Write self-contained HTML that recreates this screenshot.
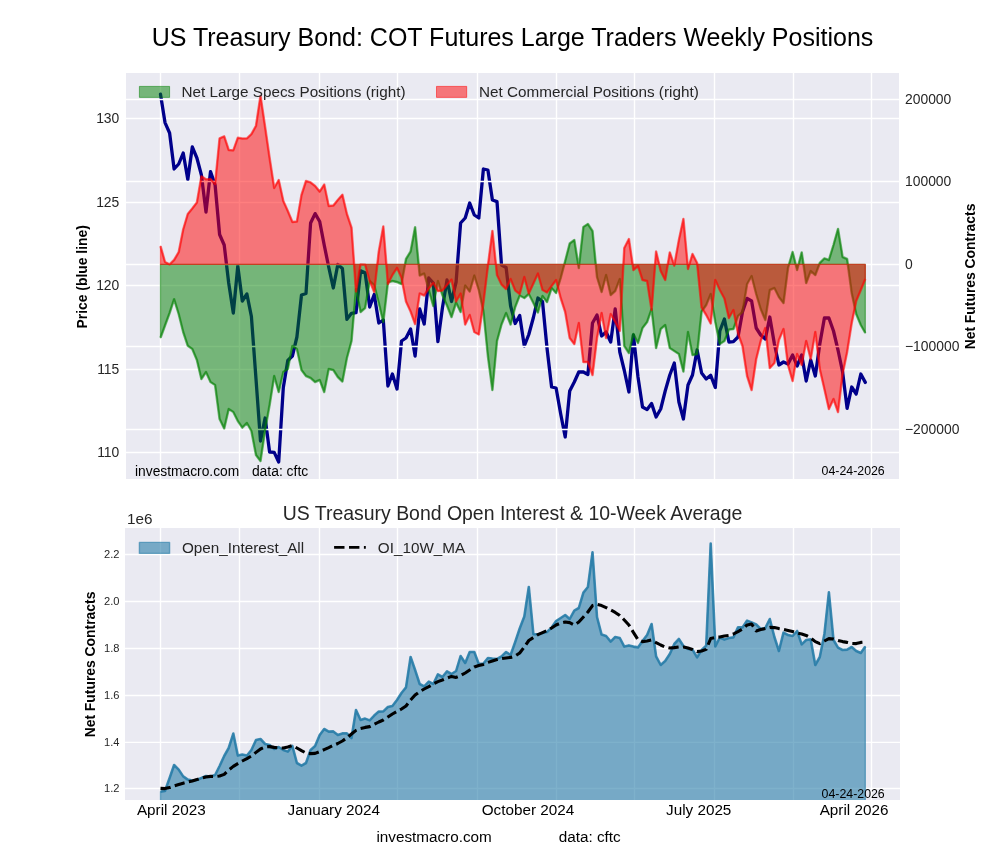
<!DOCTYPE html>
<html><head><meta charset="utf-8"><title>US Treasury Bond COT</title>
<style>html,body{margin:0;padding:0;background:#fff;}#wrap{width:1000px;height:860px;will-change:transform;}svg{display:block}text{font-family:"Liberation Sans",sans-serif;}</style></head><body>
<div id="wrap"><svg width="1000" height="860" viewBox="0 0 1000 860">
<rect width="1000" height="860" fill="#ffffff"/>
<defs><clipPath id="ct"><rect x="126" y="73" width="773" height="406"/></clipPath><clipPath id="cb"><rect x="125" y="528" width="775" height="272"/></clipPath></defs>
<rect x="126.0" y="73.0" width="773.0" height="406.0" fill="#eaeaf2"/>
<g stroke="#ffffff" stroke-width="1.39" clip-path="url(#ct)">
<line x1="160.5" y1="73.0" x2="160.5" y2="479.0"/>
<line x1="239.5" y1="73.0" x2="239.5" y2="479.0"/>
<line x1="319.5" y1="73.0" x2="319.5" y2="479.0"/>
<line x1="397.5" y1="73.0" x2="397.5" y2="479.0"/>
<line x1="477.5" y1="73.0" x2="477.5" y2="479.0"/>
<line x1="556.5" y1="73.0" x2="556.5" y2="479.0"/>
<line x1="634.5" y1="73.0" x2="634.5" y2="479.0"/>
<line x1="714.5" y1="73.0" x2="714.5" y2="479.0"/>
<line x1="793.5" y1="73.0" x2="793.5" y2="479.0"/>
<line x1="871.5" y1="73.0" x2="871.5" y2="479.0"/>
<line x1="126.0" y1="118.5" x2="899.0" y2="118.5"/>
<line x1="126.0" y1="202.5" x2="899.0" y2="202.5"/>
<line x1="126.0" y1="285.5" x2="899.0" y2="285.5"/>
<line x1="126.0" y1="369.5" x2="899.0" y2="369.5"/>
<line x1="126.0" y1="452.5" x2="899.0" y2="452.5"/>
</g>
<g clip-path="url(#ct)">
<polyline points="160.5,94.2 165.0,122.6 169.6,133.0 174.1,169.0 178.7,164.0 183.2,153.0 187.8,179.4 192.3,147.0 196.9,158.0 201.4,175.0 206.0,212.0 210.5,171.6 215.1,185.0 219.6,234.5 224.2,245.0 228.7,283.0 233.3,313.0 237.8,266.0 242.3,301.0 246.9,294.0 251.4,316.5 256.0,379.0 260.5,441.0 265.1,418.0 269.6,452.0 274.2,452.4 278.7,462.0 283.3,387.5 287.8,360.5 292.4,356.0 296.9,337.0 301.5,295.0 306.0,293.5 310.6,223.0 315.1,213.6 319.7,221.5 324.2,245.0 328.7,267.0 333.3,288.0 337.8,264.5 342.4,268.5 346.9,319.3 351.5,313.3 356.0,312.7 360.6,270.8 365.1,272.7 369.7,307.0 374.2,294.5 378.8,323.0 383.3,320.0 387.9,386.0 392.4,374.0 397.0,389.0 401.5,341.0 406.0,338.0 410.6,329.0 415.1,356.0 419.7,309.0 424.2,324.0 428.8,278.0 433.3,283.0 437.9,341.6 442.4,308.0 447.0,280.0 451.5,301.5 456.1,282.0 460.6,223.0 465.2,218.0 469.7,203.0 474.3,215.0 478.8,218.0 483.4,169.0 487.9,170.0 492.4,200.0 497.0,201.6 501.5,265.0 506.1,267.5 510.6,306.0 515.2,323.5 519.7,315.5 524.3,346.0 528.8,334.5 533.4,317.5 537.9,298.0 542.5,301.5 547.0,348.0 551.6,387.0 556.1,388.0 560.7,414.0 565.2,437.0 569.7,391.0 574.3,382.0 578.8,372.0 583.4,372.0 587.9,374.5 592.5,323.0 597.0,315.0 601.6,336.0 606.1,332.0 610.7,342.0 615.2,309.0 619.8,352.0 624.3,370.5 628.9,392.0 633.4,335.0 638.0,377.0 642.5,407.0 647.1,409.6 651.6,403.6 656.1,417.0 660.7,409.0 665.2,391.0 669.8,375.0 674.3,363.0 678.9,402.0 683.4,419.0 688.0,385.0 692.5,375.0 697.1,350.0 701.6,373.0 706.2,379.0 710.7,375.3 715.3,387.5 719.8,331.0 724.4,319.0 728.9,342.0 733.4,341.6 738.0,337.0 742.5,312.0 747.1,298.4 751.6,301.0 756.2,328.0 760.7,335.0 765.3,339.0 769.8,317.0 774.4,344.0 778.9,365.0 783.5,362.0 788.0,364.0 792.6,355.0 797.1,366.0 801.7,355.0 806.2,381.0 810.7,360.0 815.3,376.0 819.8,344.0 824.4,318.0 828.9,318.0 833.5,331.0 838.0,350.0 842.6,372.0 847.1,408.4 851.7,387.0 856.2,394.0 860.8,374.0 865.3,382.4" fill="none" stroke="#00008b" stroke-width="3.3" stroke-linejoin="round" stroke-linecap="round"/>
<g stroke="#ffffff" stroke-width="1.39">
<line x1="126.0" y1="99.5" x2="899.0" y2="99.5"/>
<line x1="126.0" y1="181.5" x2="899.0" y2="181.5"/>
<line x1="126.0" y1="264.5" x2="899.0" y2="264.5"/>
<line x1="126.0" y1="346.5" x2="899.0" y2="346.5"/>
<line x1="126.0" y1="429.5" x2="899.0" y2="429.5"/>
</g>
<polygon points="160.5,264.4 160.5,337.8 165.0,325.5 169.6,313.0 174.1,299.2 178.7,314.0 183.2,332.0 187.8,345.8 192.3,349.0 196.9,360.0 201.4,379.0 206.0,372.0 210.5,382.0 215.1,385.0 219.6,419.0 224.2,428.4 228.7,409.0 233.3,412.0 237.8,421.0 242.3,427.6 246.9,423.0 251.4,431.0 256.0,455.0 260.5,461.0 265.1,430.0 269.6,405.0 274.2,376.0 278.7,392.0 283.3,372.0 287.8,369.0 292.4,346.0 296.9,349.0 301.5,370.0 306.0,376.0 310.6,378.0 315.1,382.0 319.7,380.0 324.2,392.0 328.7,369.0 333.3,370.0 337.8,377.0 342.4,381.5 346.9,358.0 351.5,341.0 356.0,289.0 360.6,312.0 365.1,308.0 369.7,281.0 374.2,285.0 378.8,303.0 383.3,322.0 387.9,282.5 392.4,281.0 397.0,282.0 401.5,284.0 406.0,259.0 410.6,251.5 415.1,227.3 419.7,275.5 424.2,273.5 428.8,290.0 433.3,306.0 437.9,281.0 442.4,295.0 447.0,305.5 451.5,317.0 456.1,302.5 460.6,312.0 465.2,285.5 469.7,291.5 474.3,275.5 478.8,290.0 483.4,311.0 487.9,356.0 492.4,390.0 497.0,341.0 501.5,324.5 506.1,313.0 510.6,324.5 515.2,307.0 519.7,295.5 524.3,298.0 528.8,294.0 533.4,303.0 537.9,312.5 542.5,296.0 547.0,302.0 551.6,288.0 556.1,293.0 560.7,278.0 565.2,261.0 569.7,243.6 574.3,240.0 578.8,268.0 583.4,227.0 587.9,224.0 592.5,231.0 597.0,277.0 601.6,292.0 606.1,275.0 610.7,295.0 615.2,291.0 619.8,279.0 624.3,346.0 628.9,353.0 633.4,334.0 638.0,343.0 642.5,328.0 647.1,322.0 651.6,309.0 656.1,348.0 660.7,329.0 665.2,325.0 669.8,348.0 674.3,351.0 678.9,354.0 683.4,371.5 688.0,332.0 692.5,355.0 697.1,354.0 701.6,311.5 706.2,305.0 710.7,294.0 715.3,322.0 719.8,344.0 724.4,341.0 728.9,329.6 733.4,329.0 738.0,316.0 742.5,312.0 747.1,284.0 751.6,276.0 756.2,294.0 760.7,309.0 765.3,320.0 769.8,290.0 774.4,288.0 778.9,297.0 783.5,303.0 788.0,268.0 792.6,252.0 797.1,270.0 801.7,252.4 806.2,283.0 810.7,271.0 815.3,275.0 819.8,263.0 824.4,258.4 828.9,260.0 833.5,245.0 838.0,229.0 842.6,257.0 847.1,259.0 851.7,293.0 856.2,314.0 860.8,325.0 865.3,333.0 865.3,264.4" fill="rgb(0,128,0)" fill-opacity="0.5" stroke="rgb(0,128,0)" stroke-opacity="0.5" stroke-width="1.3" stroke-linejoin="round"/>
<polyline points="160.5,337.8 165.0,325.5 169.6,313.0 174.1,299.2 178.7,314.0 183.2,332.0 187.8,345.8 192.3,349.0 196.9,360.0 201.4,379.0 206.0,372.0 210.5,382.0 215.1,385.0 219.6,419.0 224.2,428.4 228.7,409.0 233.3,412.0 237.8,421.0 242.3,427.6 246.9,423.0 251.4,431.0 256.0,455.0 260.5,461.0 265.1,430.0 269.6,405.0 274.2,376.0 278.7,392.0 283.3,372.0 287.8,369.0 292.4,346.0 296.9,349.0 301.5,370.0 306.0,376.0 310.6,378.0 315.1,382.0 319.7,380.0 324.2,392.0 328.7,369.0 333.3,370.0 337.8,377.0 342.4,381.5 346.9,358.0 351.5,341.0 356.0,289.0 360.6,312.0 365.1,308.0 369.7,281.0 374.2,285.0 378.8,303.0 383.3,322.0 387.9,282.5 392.4,281.0 397.0,282.0 401.5,284.0 406.0,259.0 410.6,251.5 415.1,227.3 419.7,275.5 424.2,273.5 428.8,290.0 433.3,306.0 437.9,281.0 442.4,295.0 447.0,305.5 451.5,317.0 456.1,302.5 460.6,312.0 465.2,285.5 469.7,291.5 474.3,275.5 478.8,290.0 483.4,311.0 487.9,356.0 492.4,390.0 497.0,341.0 501.5,324.5 506.1,313.0 510.6,324.5 515.2,307.0 519.7,295.5 524.3,298.0 528.8,294.0 533.4,303.0 537.9,312.5 542.5,296.0 547.0,302.0 551.6,288.0 556.1,293.0 560.7,278.0 565.2,261.0 569.7,243.6 574.3,240.0 578.8,268.0 583.4,227.0 587.9,224.0 592.5,231.0 597.0,277.0 601.6,292.0 606.1,275.0 610.7,295.0 615.2,291.0 619.8,279.0 624.3,346.0 628.9,353.0 633.4,334.0 638.0,343.0 642.5,328.0 647.1,322.0 651.6,309.0 656.1,348.0 660.7,329.0 665.2,325.0 669.8,348.0 674.3,351.0 678.9,354.0 683.4,371.5 688.0,332.0 692.5,355.0 697.1,354.0 701.6,311.5 706.2,305.0 710.7,294.0 715.3,322.0 719.8,344.0 724.4,341.0 728.9,329.6 733.4,329.0 738.0,316.0 742.5,312.0 747.1,284.0 751.6,276.0 756.2,294.0 760.7,309.0 765.3,320.0 769.8,290.0 774.4,288.0 778.9,297.0 783.5,303.0 788.0,268.0 792.6,252.0 797.1,270.0 801.7,252.4 806.2,283.0 810.7,271.0 815.3,275.0 819.8,263.0 824.4,258.4 828.9,260.0 833.5,245.0 838.0,229.0 842.6,257.0 847.1,259.0 851.7,293.0 856.2,314.0 860.8,325.0 865.3,333.0" fill="none" stroke="rgb(0,128,0)" stroke-opacity="0.5" stroke-width="2.5" stroke-linejoin="round"/>
<polygon points="160.5,264.4 160.5,246.2 165.0,262.0 169.6,264.4 174.1,260.0 178.7,252.2 183.2,229.5 187.8,214.0 192.3,208.5 196.9,202.5 201.4,176.4 206.0,179.4 210.5,179.0 215.1,184.0 219.6,138.4 224.2,136.4 228.7,150.0 233.3,150.4 237.8,137.8 242.3,138.6 246.9,138.4 251.4,134.2 256.0,125.8 260.5,96.0 265.1,127.0 269.6,158.0 274.2,188.0 278.7,180.0 283.3,201.0 287.8,211.0 292.4,222.0 296.9,221.6 301.5,195.0 306.0,181.0 310.6,182.4 315.1,186.0 319.7,191.6 324.2,184.6 328.7,206.0 333.3,205.6 337.8,200.0 342.4,194.8 346.9,214.0 351.5,227.7 356.0,291.5 360.6,264.4 365.1,264.7 369.7,281.0 374.2,292.0 378.8,251.5 383.3,226.5 387.9,284.0 392.4,275.0 397.0,267.8 401.5,277.8 406.0,301.5 410.6,311.5 415.1,324.0 419.7,293.5 424.2,295.5 428.8,288.5 433.3,283.0 437.9,291.0 442.4,290.5 447.0,285.0 451.5,279.5 456.1,301.5 460.6,293.5 465.2,324.5 469.7,315.0 474.3,332.0 478.8,334.5 483.4,303.0 487.9,266.0 492.4,231.0 497.0,275.0 501.5,284.5 506.1,289.0 510.6,279.0 515.2,290.5 519.7,294.0 524.3,277.0 528.8,293.5 533.4,283.5 537.9,273.5 542.5,290.0 547.0,292.4 551.6,286.0 556.1,280.0 560.7,298.0 565.2,312.0 569.7,338.0 574.3,344.0 578.8,323.0 583.4,362.0 587.9,362.0 592.5,375.0 597.0,338.0 601.6,313.0 606.1,338.0 610.7,314.0 615.2,322.0 619.8,331.0 624.3,248.0 628.9,239.0 633.4,270.0 638.0,266.0 642.5,280.0 647.1,281.0 651.6,310.0 656.1,251.6 660.7,271.0 665.2,280.0 669.8,252.4 674.3,265.6 678.9,240.0 683.4,219.0 688.0,269.0 692.5,254.0 697.1,263.0 701.6,307.5 706.2,315.0 710.7,323.5 715.3,280.0 719.8,290.0 724.4,298.5 728.9,318.0 733.4,310.0 738.0,333.5 742.5,346.0 747.1,376.0 751.6,390.0 756.2,359.0 760.7,341.0 765.3,328.0 769.8,368.0 774.4,363.0 778.9,340.0 783.5,329.0 788.0,365.0 792.6,381.0 797.1,354.0 801.7,365.0 806.2,341.0 810.7,359.0 815.3,332.0 819.8,369.0 824.4,389.0 828.9,409.0 833.5,399.0 838.0,412.0 842.6,374.0 847.1,352.0 851.7,323.0 856.2,301.0 860.8,290.0 865.3,279.0 865.3,264.4" fill="rgb(255,0,0)" fill-opacity="0.5" stroke="rgb(255,0,0)" stroke-opacity="0.5" stroke-width="1.3" stroke-linejoin="round"/>
<polyline points="160.5,246.2 165.0,262.0 169.6,264.4 174.1,260.0 178.7,252.2 183.2,229.5 187.8,214.0 192.3,208.5 196.9,202.5 201.4,176.4 206.0,179.4 210.5,179.0 215.1,184.0 219.6,138.4 224.2,136.4 228.7,150.0 233.3,150.4 237.8,137.8 242.3,138.6 246.9,138.4 251.4,134.2 256.0,125.8 260.5,96.0 265.1,127.0 269.6,158.0 274.2,188.0 278.7,180.0 283.3,201.0 287.8,211.0 292.4,222.0 296.9,221.6 301.5,195.0 306.0,181.0 310.6,182.4 315.1,186.0 319.7,191.6 324.2,184.6 328.7,206.0 333.3,205.6 337.8,200.0 342.4,194.8 346.9,214.0 351.5,227.7 356.0,291.5 360.6,264.4 365.1,264.7 369.7,281.0 374.2,292.0 378.8,251.5 383.3,226.5 387.9,284.0 392.4,275.0 397.0,267.8 401.5,277.8 406.0,301.5 410.6,311.5 415.1,324.0 419.7,293.5 424.2,295.5 428.8,288.5 433.3,283.0 437.9,291.0 442.4,290.5 447.0,285.0 451.5,279.5 456.1,301.5 460.6,293.5 465.2,324.5 469.7,315.0 474.3,332.0 478.8,334.5 483.4,303.0 487.9,266.0 492.4,231.0 497.0,275.0 501.5,284.5 506.1,289.0 510.6,279.0 515.2,290.5 519.7,294.0 524.3,277.0 528.8,293.5 533.4,283.5 537.9,273.5 542.5,290.0 547.0,292.4 551.6,286.0 556.1,280.0 560.7,298.0 565.2,312.0 569.7,338.0 574.3,344.0 578.8,323.0 583.4,362.0 587.9,362.0 592.5,375.0 597.0,338.0 601.6,313.0 606.1,338.0 610.7,314.0 615.2,322.0 619.8,331.0 624.3,248.0 628.9,239.0 633.4,270.0 638.0,266.0 642.5,280.0 647.1,281.0 651.6,310.0 656.1,251.6 660.7,271.0 665.2,280.0 669.8,252.4 674.3,265.6 678.9,240.0 683.4,219.0 688.0,269.0 692.5,254.0 697.1,263.0 701.6,307.5 706.2,315.0 710.7,323.5 715.3,280.0 719.8,290.0 724.4,298.5 728.9,318.0 733.4,310.0 738.0,333.5 742.5,346.0 747.1,376.0 751.6,390.0 756.2,359.0 760.7,341.0 765.3,328.0 769.8,368.0 774.4,363.0 778.9,340.0 783.5,329.0 788.0,365.0 792.6,381.0 797.1,354.0 801.7,365.0 806.2,341.0 810.7,359.0 815.3,332.0 819.8,369.0 824.4,389.0 828.9,409.0 833.5,399.0 838.0,412.0 842.6,374.0 847.1,352.0 851.7,323.0 856.2,301.0 860.8,290.0 865.3,279.0" fill="none" stroke="rgb(255,0,0)" stroke-opacity="0.5" stroke-width="2.5" stroke-linejoin="round"/>
</g>
<rect x="139.4" y="86.4" width="30.2" height="11" fill="rgb(0,128,0)" fill-opacity="0.5" stroke="rgb(0,128,0)" stroke-opacity="0.5" stroke-width="1" stroke-linejoin="round"/>
<text x="181.5" y="96.8" font-size="15.28" fill="#262626">Net Large Specs Positions (right)</text>
<rect x="436.5" y="86.4" width="30.2" height="11" fill="rgb(255,0,0)" fill-opacity="0.5" stroke="rgb(255,0,0)" stroke-opacity="0.5" stroke-width="1" stroke-linejoin="round"/>
<text x="479" y="96.8" font-size="15.28" fill="#262626">Net Commercial Positions (right)</text>
<text x="512.5" y="46" font-size="25" text-anchor="middle" fill="#000000">US Treasury Bond: COT Futures Large Traders Weekly Positions</text>
<text x="119.3" y="123.1" font-size="13.89" text-anchor="end" fill="#262626">130</text>
<text x="119.3" y="207.1" font-size="13.89" text-anchor="end" fill="#262626">125</text>
<text x="119.3" y="290.1" font-size="13.89" text-anchor="end" fill="#262626">120</text>
<text x="119.3" y="374.1" font-size="13.89" text-anchor="end" fill="#262626">115</text>
<text x="119.3" y="457.1" font-size="13.89" text-anchor="end" fill="#262626">110</text>
<text x="905" y="104.1" font-size="13.89" fill="#262626">200000</text>
<text x="905" y="186.1" font-size="13.89" fill="#262626">100000</text>
<text x="905" y="269.1" font-size="13.89" fill="#262626">0</text>
<text x="905" y="351.1" font-size="13.89" fill="#262626">−100000</text>
<text x="905" y="434.1" font-size="13.89" fill="#262626">−200000</text>
<text transform="translate(87,276.8) rotate(-90)" font-size="13.89" font-weight="bold" text-anchor="middle" fill="#000">Price (blue line)</text>
<text transform="translate(975.2,276.5) rotate(-90)" font-size="13.89" font-weight="bold" text-anchor="middle" fill="#000">Net Futures Contracts</text>
<text x="135.0" y="476" font-size="13.8" fill="#000">investmacro.com</text>
<text x="251.9" y="476" font-size="13.89" fill="#000">data: cftc</text>
<text x="821.6" y="475" font-size="12.35" fill="#000">04-24-2026</text>
<rect x="125.0" y="528.0" width="775.0" height="272.0" fill="#eaeaf2"/>
<g stroke="#ffffff" stroke-width="1.39" clip-path="url(#cb)">
<line x1="160.5" y1="528.0" x2="160.5" y2="800.0"/>
<line x1="239.5" y1="528.0" x2="239.5" y2="800.0"/>
<line x1="319.5" y1="528.0" x2="319.5" y2="800.0"/>
<line x1="397.5" y1="528.0" x2="397.5" y2="800.0"/>
<line x1="477.5" y1="528.0" x2="477.5" y2="800.0"/>
<line x1="556.5" y1="528.0" x2="556.5" y2="800.0"/>
<line x1="634.5" y1="528.0" x2="634.5" y2="800.0"/>
<line x1="714.5" y1="528.0" x2="714.5" y2="800.0"/>
<line x1="793.5" y1="528.0" x2="793.5" y2="800.0"/>
<line x1="871.5" y1="528.0" x2="871.5" y2="800.0"/>
<line x1="125.0" y1="554.5" x2="900.0" y2="554.5"/>
<line x1="125.0" y1="601.5" x2="900.0" y2="601.5"/>
<line x1="125.0" y1="648.5" x2="900.0" y2="648.5"/>
<line x1="125.0" y1="695.5" x2="900.0" y2="695.5"/>
<line x1="125.0" y1="742.4" x2="900.0" y2="742.4"/>
<line x1="125.0" y1="788.5" x2="900.0" y2="788.5"/>
</g>
<g clip-path="url(#cb)">
<polygon points="160.5,820 160.5,791.6 165.0,791.0 169.6,778.0 174.1,765.0 178.7,769.6 183.2,776.4 187.8,779.6 192.3,780.6 196.9,780.0 201.4,778.0 206.0,776.0 210.5,776.6 215.1,775.0 219.6,766.0 224.2,756.0 228.7,748.0 233.3,733.6 237.8,755.6 242.3,754.6 246.9,755.6 251.4,750.0 256.0,740.0 260.5,739.0 265.1,744.0 269.6,745.0 274.2,749.0 278.7,747.0 283.3,750.0 287.8,751.6 292.4,746.0 296.9,763.0 301.5,765.6 306.0,763.0 310.6,750.0 315.1,746.0 319.7,735.0 324.2,729.0 328.7,731.6 333.3,731.4 337.8,735.0 342.4,733.4 346.9,733.4 351.5,738.0 356.0,710.0 360.6,720.0 365.1,718.6 369.7,720.4 374.2,715.6 378.8,711.6 383.3,711.4 387.9,707.0 392.4,706.0 397.0,700.0 401.5,693.0 406.0,687.4 410.6,657.0 415.1,670.0 419.7,684.0 424.2,686.4 428.8,681.6 433.3,684.0 437.9,674.4 442.4,677.0 447.0,671.4 451.5,674.0 456.1,671.0 460.6,656.0 465.2,663.0 469.7,652.0 474.3,652.0 478.8,664.0 483.4,663.6 487.9,658.0 492.4,658.6 497.0,659.0 501.5,656.4 506.1,652.0 510.6,655.0 515.2,642.0 519.7,628.5 524.3,616.5 528.8,587.0 533.4,634.2 537.9,634.4 542.5,633.0 547.0,632.0 551.6,627.6 556.1,621.0 560.7,618.0 565.2,615.0 569.7,619.0 574.3,610.6 578.8,608.0 583.4,592.6 587.9,587.0 592.5,552.4 597.0,617.0 601.6,634.6 606.1,636.0 610.7,641.6 615.2,637.0 619.8,638.0 624.3,646.6 628.9,645.4 633.4,646.6 638.0,647.4 642.5,641.0 647.1,635.0 651.6,624.0 656.1,656.4 660.7,665.0 665.2,661.0 669.8,654.0 674.3,644.0 678.9,639.0 683.4,646.0 688.0,649.0 692.5,649.6 697.1,657.4 701.6,650.0 706.2,645.6 710.7,543.6 715.3,646.4 719.8,637.5 724.4,639.6 728.9,638.0 733.4,637.4 738.0,627.4 742.5,627.4 747.1,620.6 751.6,622.4 756.2,624.4 760.7,629.0 765.3,628.0 769.8,619.0 774.4,637.0 778.9,651.0 783.5,632.6 788.0,635.0 792.6,636.0 797.1,631.0 801.7,644.4 806.2,640.0 810.7,639.4 815.3,665.0 819.8,657.0 824.4,634.0 828.9,592.4 833.5,640.0 838.0,647.6 842.6,650.0 847.1,649.6 851.7,647.0 856.2,651.0 860.8,653.0 865.3,646.6 865.3,820" fill="#287da8" fill-opacity="0.6" stroke="#287da8" stroke-opacity="0.6" stroke-width="1.39" stroke-linejoin="round"/>
<polyline points="160.5,791.6 165.0,791.0 169.6,778.0 174.1,765.0 178.7,769.6 183.2,776.4 187.8,779.6 192.3,780.6 196.9,780.0 201.4,778.0 206.0,776.0 210.5,776.6 215.1,775.0 219.6,766.0 224.2,756.0 228.7,748.0 233.3,733.6 237.8,755.6 242.3,754.6 246.9,755.6 251.4,750.0 256.0,740.0 260.5,739.0 265.1,744.0 269.6,745.0 274.2,749.0 278.7,747.0 283.3,750.0 287.8,751.6 292.4,746.0 296.9,763.0 301.5,765.6 306.0,763.0 310.6,750.0 315.1,746.0 319.7,735.0 324.2,729.0 328.7,731.6 333.3,731.4 337.8,735.0 342.4,733.4 346.9,733.4 351.5,738.0 356.0,710.0 360.6,720.0 365.1,718.6 369.7,720.4 374.2,715.6 378.8,711.6 383.3,711.4 387.9,707.0 392.4,706.0 397.0,700.0 401.5,693.0 406.0,687.4 410.6,657.0 415.1,670.0 419.7,684.0 424.2,686.4 428.8,681.6 433.3,684.0 437.9,674.4 442.4,677.0 447.0,671.4 451.5,674.0 456.1,671.0 460.6,656.0 465.2,663.0 469.7,652.0 474.3,652.0 478.8,664.0 483.4,663.6 487.9,658.0 492.4,658.6 497.0,659.0 501.5,656.4 506.1,652.0 510.6,655.0 515.2,642.0 519.7,628.5 524.3,616.5 528.8,587.0 533.4,634.2 537.9,634.4 542.5,633.0 547.0,632.0 551.6,627.6 556.1,621.0 560.7,618.0 565.2,615.0 569.7,619.0 574.3,610.6 578.8,608.0 583.4,592.6 587.9,587.0 592.5,552.4 597.0,617.0 601.6,634.6 606.1,636.0 610.7,641.6 615.2,637.0 619.8,638.0 624.3,646.6 628.9,645.4 633.4,646.6 638.0,647.4 642.5,641.0 647.1,635.0 651.6,624.0 656.1,656.4 660.7,665.0 665.2,661.0 669.8,654.0 674.3,644.0 678.9,639.0 683.4,646.0 688.0,649.0 692.5,649.6 697.1,657.4 701.6,650.0 706.2,645.6 710.7,543.6 715.3,646.4 719.8,637.5 724.4,639.6 728.9,638.0 733.4,637.4 738.0,627.4 742.5,627.4 747.1,620.6 751.6,622.4 756.2,624.4 760.7,629.0 765.3,628.0 769.8,619.0 774.4,637.0 778.9,651.0 783.5,632.6 788.0,635.0 792.6,636.0 797.1,631.0 801.7,644.4 806.2,640.0 810.7,639.4 815.3,665.0 819.8,657.0 824.4,634.0 828.9,592.4 833.5,640.0 838.0,647.6 842.6,650.0 847.1,649.6 851.7,647.0 856.2,651.0 860.8,653.0 865.3,646.6" fill="none" stroke="#287da8" stroke-opacity="0.85" stroke-width="2.6" stroke-linejoin="round"/>
<polyline points="160.5,788.4 165.0,788.6 169.6,787.6 174.1,786.0 178.7,784.6 183.2,783.2 187.8,782.0 192.3,781.0 196.9,779.6 201.4,778.0 206.0,777.0 210.5,776.4 215.1,776.6 219.6,776.0 224.2,774.4 228.7,770.0 233.3,766.4 237.8,763.6 242.3,761.0 246.9,758.6 251.4,756.0 256.0,752.4 260.5,749.0 265.1,747.0 269.6,746.6 274.2,747.4 278.7,748.0 283.3,748.0 287.8,747.0 292.4,745.6 296.9,748.0 301.5,750.6 306.0,753.0 310.6,753.6 315.1,753.4 319.7,751.6 324.2,749.6 328.7,747.6 333.3,745.4 337.8,743.5 342.4,741.0 346.9,737.8 351.5,734.0 356.0,730.4 360.6,728.4 365.1,727.4 369.7,726.6 374.2,724.4 378.8,722.0 383.3,720.0 387.9,717.0 392.4,714.0 397.0,711.4 401.5,709.0 406.0,706.0 410.6,700.0 415.1,695.0 419.7,691.6 424.2,689.0 428.8,686.6 433.3,684.0 437.9,681.6 442.4,680.0 447.0,678.0 451.5,676.4 456.1,677.4 460.6,675.6 465.2,673.0 469.7,670.0 474.3,667.0 478.8,665.6 483.4,664.4 487.9,662.4 492.4,661.0 497.0,659.6 501.5,658.6 506.1,658.0 510.6,657.4 515.2,656.0 519.7,653.0 524.3,647.0 528.8,640.5 533.4,637.5 537.9,634.6 542.5,632.6 547.0,630.6 551.6,628.0 556.1,625.0 560.7,623.0 565.2,622.0 569.7,622.6 574.3,625.0 578.8,622.0 583.4,617.0 587.9,612.0 592.5,605.6 597.0,604.4 601.6,605.6 606.1,607.6 610.7,610.0 615.2,612.4 619.8,615.6 624.3,620.0 628.9,625.0 633.4,632.4 638.0,639.6 642.5,641.6 647.1,641.0 651.6,640.0 656.1,642.6 660.7,645.0 665.2,647.0 669.8,648.0 674.3,647.6 678.9,647.0 683.4,647.0 688.0,648.0 692.5,649.4 697.1,651.6 701.6,651.0 706.2,649.4 710.7,638.5 715.3,637.5 719.8,637.0 724.4,636.0 728.9,635.4 733.4,634.0 738.0,631.6 742.5,629.0 747.1,625.0 751.6,624.0 756.2,631.0 760.7,629.6 765.3,628.6 769.8,627.4 774.4,627.6 778.9,628.6 783.5,629.4 788.0,630.4 792.6,631.6 797.1,633.0 801.7,634.0 806.2,635.4 810.7,638.0 815.3,641.6 819.8,643.6 824.4,641.0 828.9,638.6 833.5,639.0 838.0,640.4 842.6,641.6 847.1,642.4 851.7,643.4 856.2,643.6 860.8,642.4 865.3,642.0" fill="none" stroke="#000" stroke-width="3.1" stroke-dasharray="10.27,4.39" stroke-linejoin="round"/>
</g>
<text x="512.5" y="520" font-size="19.44" text-anchor="middle" fill="#262626">US Treasury Bond Open Interest &amp; 10-Week Average</text>
<text x="127" y="523.5" font-size="15.28" fill="#262626">1e6</text>
<rect x="139.4" y="542.4" width="30.2" height="11" fill="#287da8" fill-opacity="0.6" stroke="#287da8" stroke-opacity="0.6" stroke-width="1.39" stroke-linejoin="round"/>
<text x="181.9" y="552.6" font-size="15.28" fill="#262626">Open_Interest_All</text>
<line x1="334.1" y1="547.3" x2="365.8" y2="547.3" stroke="#000" stroke-width="2.8" stroke-dasharray="10.4,4.5"/>
<text x="377.8" y="552.6" font-size="15.28" fill="#262626">OI_10W_MA</text>
<text x="119.5" y="558.0" font-size="11.1" text-anchor="end" fill="#262626">2.2</text>
<text x="119.5" y="605.0" font-size="11.1" text-anchor="end" fill="#262626">2.0</text>
<text x="119.5" y="652.0" font-size="11.1" text-anchor="end" fill="#262626">1.8</text>
<text x="119.5" y="699.0" font-size="11.1" text-anchor="end" fill="#262626">1.6</text>
<text x="119.5" y="745.9" font-size="11.1" text-anchor="end" fill="#262626">1.4</text>
<text x="119.5" y="792.0" font-size="11.1" text-anchor="end" fill="#262626">1.2</text>
<text transform="translate(95.4,664.5) rotate(-90)" font-size="13.89" font-weight="bold" text-anchor="middle" fill="#000">Net Futures Contracts</text>
<text x="171.3" y="815" font-size="15.28" text-anchor="middle" fill="#000">April 2023</text>
<text x="333.8" y="815" font-size="15.28" text-anchor="middle" fill="#000">January 2024</text>
<text x="528" y="815" font-size="15.28" text-anchor="middle" fill="#000">October 2024</text>
<text x="698.7" y="815" font-size="15.28" text-anchor="middle" fill="#000">July 2025</text>
<text x="854" y="815" font-size="15.28" text-anchor="middle" fill="#000">April 2026</text>
<text x="821.6" y="797.6" font-size="12.35" fill="#000">04-24-2026</text>
<text x="376.4" y="841.6" font-size="15.28" fill="#000">investmacro.com</text>
<text x="558.8" y="841.6" font-size="15.28" fill="#000">data: cftc</text>
</svg></div></body></html>
